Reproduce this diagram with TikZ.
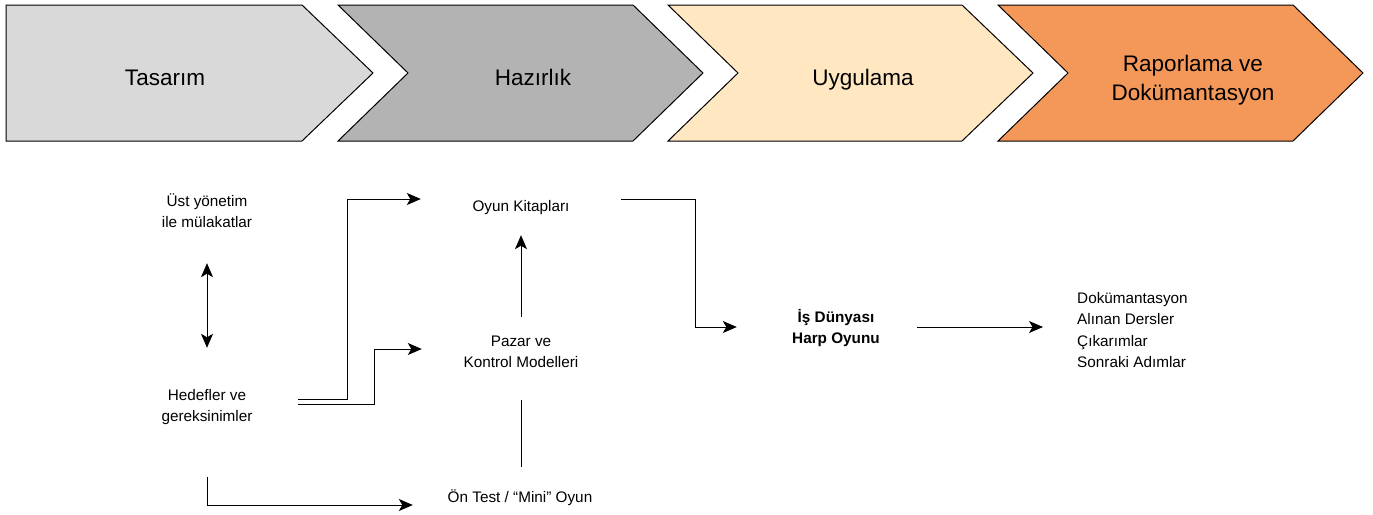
\documentclass[tikz,border=0pt]{standalone}
\usepackage{fontspec}
\setmainfont{Liberation Sans}
\usetikzlibrary{arrows.meta}
\definecolor{chevA}{HTML}{D9D9D9}
\definecolor{chevB}{HTML}{B3B3B3}
\definecolor{chevC}{HTML}{FFE7C1}
\definecolor{chevD}{HTML}{F4985A}
\tikzset{
  chev/.style={draw=black, line width=1pt, line join=miter},
  chevtext/.style={font=\fontsize{22.5}{29}\selectfont, align=center, inner sep=0pt},
  lbl/.style={font=\fontsize{15.3}{21}\selectfont, align=center, inner sep=0pt},
  conn/.style={draw=black, line width=1pt},
  arr/.style={conn, -{Stealth[length=14pt,width=12pt,inset=3.5pt]}},
  dblarr/.style={conn, {Stealth[length=14pt,width=12pt,inset=3.5pt]}-{Stealth[length=14pt,width=12pt,inset=3.5pt]}}
}
\begin{document}
\begin{tikzpicture}[x=1pt,y=-1pt]
\useasboundingbox (0,0) rectangle (1373,514);
% chevrons
\draw[chev, fill=chevA] (6,5) -- (302,5) -- (373,73) -- (302,141) -- (6,141) -- cycle;
\draw[chev, fill=chevB] (338,5) -- (633,5) -- (703,73) -- (633,141) -- (338,141) -- (408,73) -- cycle;
\draw[chev, fill=chevC] (668,5) -- (962,5) -- (1033,73) -- (962,141) -- (668,141) -- (738,73) -- cycle;
\draw[chev, fill=chevD] (998,5) -- (1293,5) -- (1363,73) -- (1293,141) -- (998,141) -- (1068,73) -- cycle;
\node[chevtext, anchor=base] (tasarim) at (165,85) {Tasarım};
\node[chevtext, anchor=base] (hazirlik) at (533,85) {Hazırlık};
\node[chevtext, anchor=base] (uygulama) at (863,85) {Uygulama};
\node[chevtext] (rapor) at (1193,80) {Raporlama ve\\Dokümantasyon};
% lower nodes
\node[lbl, minimum width=180pt, minimum height=104pt] (ust) at (207,211) {Üst yönetim\\ile mülakatlar};
\node[lbl, minimum width=182pt, minimum height=118pt] (hed) at (207,407) {Hedefler ve\\gereksinimler};
\node[lbl, minimum width=200pt, minimum height=54pt] (oyun) at (521,208) {Oyun Kitapları};
\node[lbl, minimum width=198pt, minimum height=70pt] (pazar) at (521,352) {Pazar ve\\Kontrol Modelleri};
\node[lbl, minimum width=214pt, minimum height=61pt] (ontest) at (520,497.5) {Ön Test / “Mini” Oyun};
\node[lbl, font=\fontsize{15.3}{21}\selectfont\bfseries, minimum width=198pt] (is) at (836,328) {İş Dünyası\\Harp Oyunu};
\node[lbl, align=left, anchor=west] (list) at (1077,330) {Dokümantasyon\\[0.5pt]Alınan Dersler\\[0.5pt]Çıkarımlar\\[0.5pt]Sonraki Adımlar};
% connectors
\draw[dblarr] (ust.south) -- (hed.north);
\draw[arr] ([yshift=8pt]hed.east) -- ++(49,0) |- ([yshift=9pt]oyun.west);
\draw[arr] ([yshift=3pt]hed.east) -- ++(76,0) |- ([yshift=3pt]pazar.west);
\draw[arr] (pazar.north) -- (pazar.north |- oyun.south);
\draw[conn] ([yshift=-13pt]pazar.south) -- (ontest.north -| pazar.south);
\draw[arr] ([yshift=-11pt]hed.south) |- ([yshift=-7.5pt]ontest.west);
\draw[arr] ([yshift=9pt]oyun.east) -- ++(74,0) |- ([yshift=1pt]is.west);
\draw[arr] ([xshift=-18pt,yshift=1pt]is.east) -- ([xshift=-34pt,yshift=3pt]list.west);
\end{tikzpicture}
\end{document}
